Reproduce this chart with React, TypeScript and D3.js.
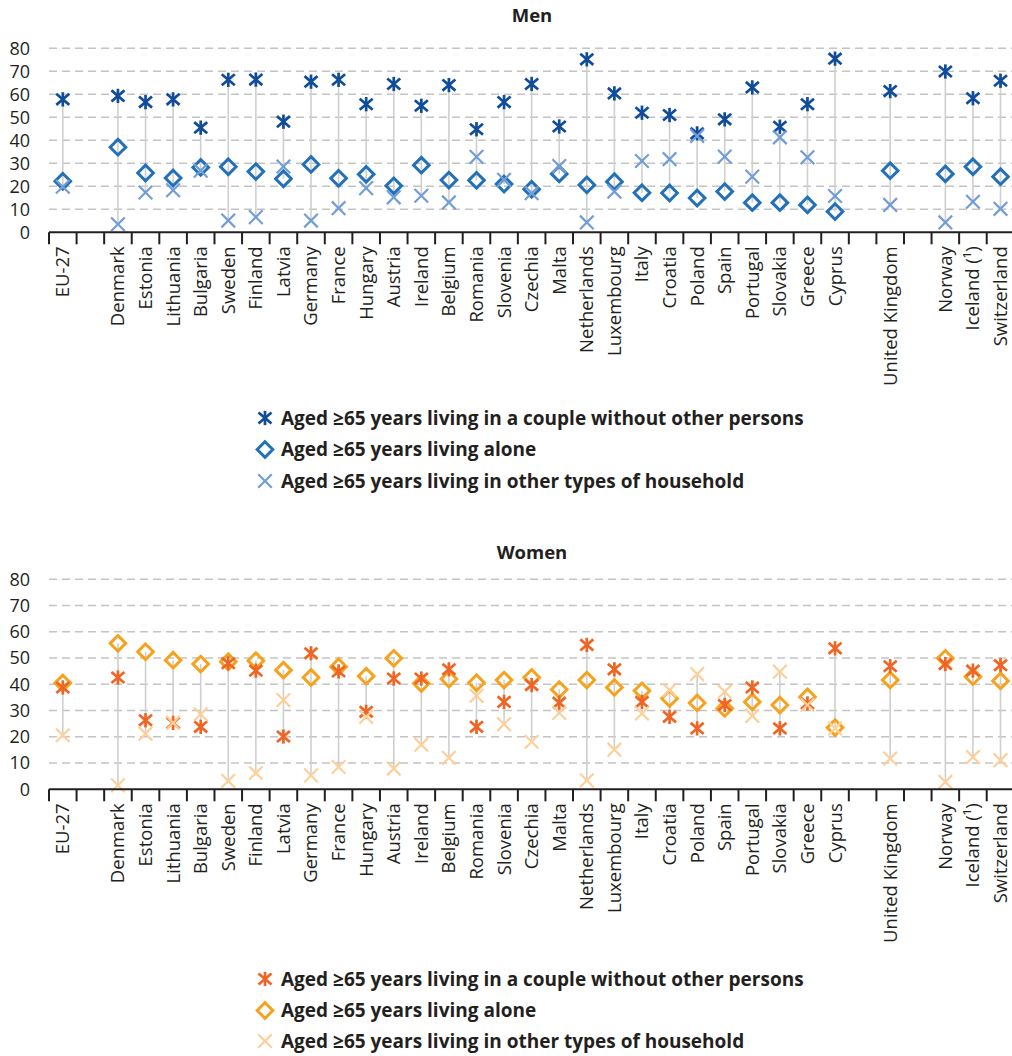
import React from "react";
import * as d3 from "d3";

const slots: string[] = [
  "EU-27", "", "Denmark", "Estonia", "Lithuania", "Bulgaria", "Sweden", "Finland", "Latvia",
  "Germany", "France", "Hungary", "Austria", "Ireland", "Belgium", "Romania", "Slovenia",
  "Czechia", "Malta", "Netherlands", "Luxembourg", "Italy", "Croatia", "Poland", "Spain",
  "Portugal", "Slovakia", "Greece", "Cyprus", "", "United Kingdom", "", "Norway",
  "Iceland (¹)", "Switzerland",
];

// values per non-empty slot, in the same order as slots (gaps skipped)
const menCouple = [57.8, 59.3, 56.6, 57.8, 45.5, 66.3, 66.4, 48.1, 65.5, 66.3, 55.7, 64.5, 55.0, 64.0, 44.8, 56.6, 64.5, 46.0, 75.2, 60.4, 52.0, 51.0, 43.0, 49.1, 63.0, 45.9, 55.7, 75.5, 61.4, 69.9, 58.3, 65.9];
const menAlone = [22.2, 37.0, 25.8, 23.6, 28.2, 28.5, 26.4, 23.3, 29.5, 23.5, 25.2, 20.2, 29.2, 22.7, 22.6, 21.0, 18.7, 25.4, 20.6, 22.0, 17.2, 17.1, 14.9, 17.7, 12.9, 12.9, 11.9, 9.0, 26.8, 25.4, 28.5, 24.2];
const menOther = [19.8, 3.5, 17.3, 18.3, 26.8, 5.1, 6.6, 28.6, 5.1, 10.5, 19.2, 15.2, 15.9, 13.0, 32.8, 22.8, 17.0, 28.8, 4.3, 17.7, 31.0, 31.8, 41.9, 32.9, 24.2, 41.3, 32.6, 15.8, 11.9, 4.3, 13.3, 10.2];

const womenCouple = [38.8, 42.6, 26.3, 25.3, 23.8, 48.0, 45.2, 20.1, 51.8, 44.9, 29.5, 42.2, 42.2, 45.7, 23.8, 33.3, 39.7, 33.0, 55.0, 45.7, 33.3, 27.6, 23.2, 32.1, 38.8, 23.2, 32.7, 53.7, 46.9, 47.7, 45.2, 47.3];
const womenAlone = [40.5, 55.6, 52.4, 49.2, 47.7, 48.6, 49.0, 45.4, 42.6, 46.7, 43.1, 49.9, 40.3, 42.0, 40.6, 41.6, 42.6, 38.0, 41.6, 38.8, 37.5, 34.6, 32.9, 30.8, 33.3, 32.1, 35.2, 23.5, 41.6, 49.9, 42.9, 41.3];
const womenOther = [20.6, 1.5, 21.2, 25.3, 28.6, 3.2, 6.2, 34.0, 5.3, 8.5, 27.6, 7.9, 17.0, 12.0, 35.6, 24.8, 18.1, 29.1, 3.4, 15.1, 28.9, 37.8, 43.9, 37.2, 28.0, 44.8, 32.1, 23.2, 11.7, 2.8, 12.3, 11.1];

const yTicks = [0, 10, 20, 30, 40, 50, 60, 70, 80];
const legendLabels = [
  "Aged ≥65 years living in a couple without other persons",
  "Aged ≥65 years living alone",
  "Aged ≥65 years living in other types of household",
];
const menColors = ["#0f4c9c", "#2271b8", "#729dd5"];
const womenColors = ["#f06424", "#f6a21c", "#fdd09a"];

const FONT = "'Open Sans', sans-serif";
const TEXT = "#231f20";

const x = d3
  .scaleBand<string>()
  .domain(slots.map((_, i) => String(i)))
  .range([49, 1014.3])
  .padding(0);

const countrySlots = slots.map((s, i) => (s ? i : -1)).filter((i) => i >= 0);

function Marker({ kind, cx, cy, color }: { kind: number; cx: number; cy: number; color: string }) {
  if (kind === 0) {
    const r = 6.5;
    return (
      <g transform={`translate(${cx},${cy})`} stroke={color} strokeWidth={2.7} fill="none">
        <line x1={-r} y1={-r * 0.85} x2={r} y2={r * 0.85} />
        <line x1={-r} y1={r * 0.85} x2={r} y2={-r * 0.85} />
        <line x1={0} y1={-r * 1.1} x2={0} y2={r * 1.1} />
      </g>
    );
  }
  if (kind === 1) {
    const r = 7.8;
    return (
      <path
        d={`M${cx},${cy - r}L${cx + r},${cy}L${cx},${cy + r}L${cx - r},${cy}Z`}
        stroke={color}
        strokeWidth={3}
        fill="none"
      />
    );
  }
  const r = 6.8;
  return (
    <g transform={`translate(${cx},${cy})`} stroke={color} strokeWidth={2.2} fill="none">
      <line x1={-r} y1={-r} x2={r} y2={r} />
      <line x1={-r} y1={r} x2={r} y2={-r} />
    </g>
  );
}

function Panel({
  title,
  titleY,
  y0,
  y80,
  series,
  colors,
  legendY,
}: {
  title: string;
  titleY: number;
  y0: number;
  y80: number;
  series: number[][];
  colors: string[];
  legendY: number[];
}) {
  const y = d3.scaleLinear().domain([0, 80]).range([y0, y80]);
  const bw = x.bandwidth();
  const [couple, alone, other] = series;
  const drawOrder = [1, 0, 2];
  return (
    <g>
      <text x={532} y={titleY} textAnchor="middle" fontFamily={FONT} fontWeight={700} fontSize={18.5} fill={TEXT}>
        {title}
      </text>
      {yTicks.map((t) => (
        <g key={t}>
          {t > 0 && (
            <line x1={49} x2={1012} y1={y(t)} y2={y(t)} stroke="#c4c4c4" strokeWidth={1.5} strokeDasharray="8,5" />
          )}
          <text x={30} y={y(t)} dy="0.35em" textAnchor="end" fontFamily={FONT} fontSize={18} fill={TEXT}>
            {t}
          </text>
        </g>
      ))}
      {countrySlots.map((si, k) => {
        const vals = [couple[k], alone[k], other[k]];
        const cx = (x(String(si)) as number) + bw / 2;
        return (
          <line
            key={"c" + si}
            x1={cx}
            x2={cx}
            y1={y(d3.min(vals) as number)}
            y2={y(d3.max(vals) as number)}
            stroke="#cfcfcf"
            strokeWidth={1.6}
          />
        );
      })}
      {drawOrder.map((s) =>
        countrySlots.map((si, k) => {
          const cx = (x(String(si)) as number) + bw / 2;
          return <Marker key={s + "-" + si} kind={s} cx={cx} cy={y(series[s][k])} color={colors[s]} />;
        })
      )}
      <line x1={49} x2={1014} y1={y0} y2={y0} stroke={TEXT} strokeWidth={2} />
      {slots.map((_, i) => (
        <line key={"t" + i} x1={x(String(i)) as number} x2={x(String(i)) as number} y1={y0} y2={y0 + 12} stroke={TEXT} strokeWidth={2} />
      ))}
      <line x1={1014.3} x2={1014.3} y1={y0} y2={y0 + 12} stroke={TEXT} strokeWidth={2} />
      {slots.map((s, i) =>
        s ? (
          <text
            key={"l" + i}
            transform={`translate(${(x(String(i)) as number) + bw / 2},${y0 + 14}) rotate(-90)`}
            textAnchor="end"
            dy="0.35em"
            fontFamily={FONT}
            fontSize={18.5}
            fill={TEXT}
          >
            {s}
          </text>
        ) : null
      )}
      {legendLabels.map((l, i) => (
        <g key={"lg" + i}>
          <Marker kind={i} cx={265} cy={legendY[i]} color={colors[i]} />
          <text x={281} y={legendY[i]} dy="0.35em" fontFamily={FONT} fontWeight={700} fontSize={19} fill={TEXT}>
            {l}
          </text>
        </g>
      ))}
    </g>
  );
}

export default function App() {
  return (
    <svg
      width={1012}
      height={1056}
      style={{ position: "absolute", left: 0, top: 0, background: "#fff" }}
    >
      <rect width={1012} height={1056} fill="#fff" />
      <Panel
        title="Men"
        titleY={22}
        y0={232.3}
        y80={48.3}
        series={[menCouple, menAlone, menOther]}
        colors={menColors}
        legendY={[418, 449.5, 481]}
      />
      <Panel
        title="Women"
        titleY={559}
        y0={789.3}
        y80={579.3}
        series={[womenCouple, womenAlone, womenOther]}
        colors={womenColors}
        legendY={[979, 1010.5, 1041]}
      />
    </svg>
  );
}
